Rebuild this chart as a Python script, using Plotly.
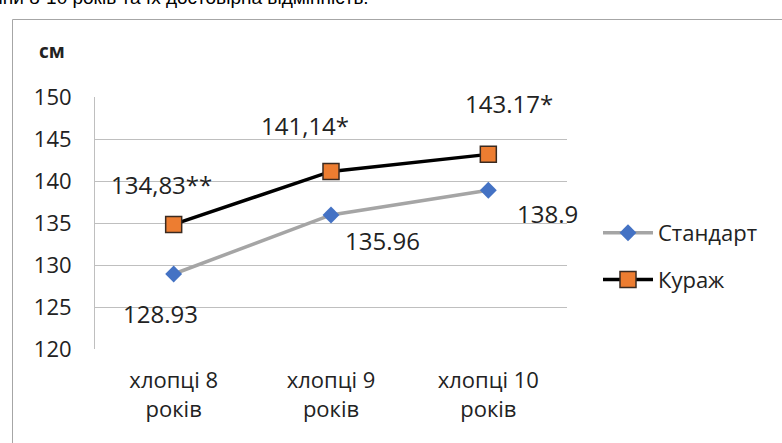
import plotly.graph_objects as go

# Категорії та значення довжини тіла (см)
categories = ["хлопці 8<br>років", "хлопці 9<br>років", "хлопці 10<br>років"]
standard_vals = [128.93, 135.96, 138.9]
kurazh_vals = [134.83, 141.14, 143.17]
standard_labels = ["128.93", "135.96", "138.9"]
kurazh_labels = ["134,83**", "141,14*", "143.17*"]
y_ticks = [120, 125, 130, 135, 140, 145, 150]

W, H = 782, 443
L, R, T, B = 95, 567, 97, 349  # plot area in pixels

FONT = "Open Sans"


def px_x(p):
    return (p - L) / (R - L)


def px_y(p):
    return (B - p) / (B - T)


fig = go.Figure()

fig.add_trace(go.Scatter(
    x=categories, y=standard_vals, name="Стандарт", mode="lines+markers",
    line=dict(color="#A5A5A5", width=3.5),
    marker=dict(symbol="diamond", size=13, color="#4472C4", line=dict(width=0)),
    legendgroup="a",
))
fig.add_trace(go.Scatter(
    x=categories, y=kurazh_vals, name="Кураж", mode="lines+markers",
    line=dict(color="#000000", width=3.5),
    marker=dict(symbol="square", size=16, color="#ED7D31",
                line=dict(color="#3a2a20", width=1.5)),
    legendgroup="b",
))

# Підписи значень
std_shift = [(-13, -40), (51, -26), (59, -23)]
kur_shift = [(-12, 40), (-26, 46), (21, 51)]
annotations = []
for cat, v, t, (dx, dy) in zip(categories, standard_vals, standard_labels, std_shift):
    annotations.append(dict(x=cat, y=v, text=t, showarrow=False, xshift=dx, yshift=dy,
                            font=dict(family=FONT, size=24, color="#222")))
for cat, v, t, (dx, dy) in zip(categories, kurazh_vals, kurazh_labels, kur_shift):
    annotations.append(dict(x=cat, y=v, text=t, showarrow=False, xshift=dx, yshift=dy,
                            font=dict(family=FONT, size=24, color="#222")))

# Одиниці виміру
annotations.append(dict(xref="paper", yref="paper", x=px_x(52), y=px_y(51), text="<b>см</b>",
                        xanchor="center", yanchor="middle",
                        showarrow=False, font=dict(family=FONT, size=19, color="#222")))
# Рядок заголовка над рамкою
annotations.append(dict(xref="paper", yref="paper", x=px_x(-14), y=px_y(-3), xanchor="left",
                        yanchor="middle", text="аіни 8-10 років та їх достовірна відмінність.",
                        showarrow=False, font=dict(family="Liberation Sans", size=19, color="#000")))

# Рамка області діаграми
shapes = [dict(type="rect", xref="paper", yref="paper",
               x0=px_x(12.5), x1=px_x(800), y0=px_y(470), y1=px_y(19.5),
               line=dict(color="#A6A6A6", width=1), fillcolor="rgba(0,0,0,0)", layer="below")]

fig.update_layout(
    width=W, height=H,
    margin=dict(l=L, r=W - R, t=T, b=H - B),
    paper_bgcolor="white", plot_bgcolor="white",
    font=dict(family=FONT, color="#222"),
    showlegend=True,
    legend=dict(x=px_x(598), y=px_y(212), xanchor="left", yanchor="top",
                font=dict(family=FONT, size=22, color="#222"),
                traceorder="grouped", tracegroupgap=15, itemwidth=50,
                bgcolor="rgba(0,0,0,0)"),
    annotations=annotations,
    shapes=shapes,
    xaxis=dict(range=[-0.5, 2.5], showgrid=False, showline=False, zeroline=False,
               ticks="outside", ticklen=12, tickcolor="rgba(0,0,0,0)",
               tickfont=dict(family=FONT, size=22, color="#222")),
    yaxis=dict(range=[120, 150], tickvals=y_ticks, showgrid=True, gridcolor="#BFBFBF",
               gridwidth=1, showline=True, linecolor="#BFBFBF", linewidth=1,
               zeroline=False, ticks="outside", ticklen=18, tickcolor="rgba(0,0,0,0)",
               tickfont=dict(family=FONT, size=22, color="#222")),
)

fig.write_html("out.html")
